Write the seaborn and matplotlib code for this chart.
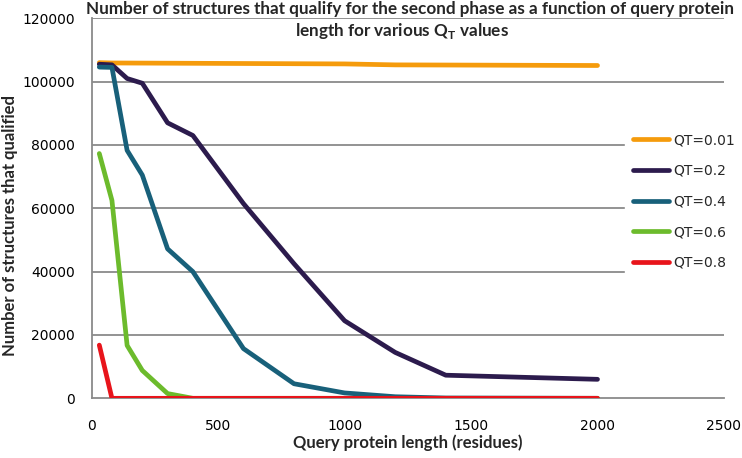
import pandas as pd
import matplotlib
matplotlib.use("Agg")
import matplotlib.pyplot as plt
from matplotlib.lines import Line2D
import seaborn as sns

# values
len_001 = [30, 80, 1000, 1200, 2000]
qt_001 = [106000, 105900, 105600, 105300, 105100]

len_02 = [30, 80, 140, 200, 300, 400, 600, 800, 1000, 1200, 1400, 2000]
qt_02 = [105500, 105300, 101000, 99500, 87000, 83000, 61500, 42500, 24500, 14500, 7300, 6000]

len_04 = [30, 80, 140, 200, 300, 400, 600, 800, 1000, 1200, 1400, 2000]
qt_04 = [104600, 104500, 78300, 70500, 47200, 40000, 15700, 4600, 1700, 500, 100, 0]

len_06 = [30, 80, 140, 200, 300, 400, 2000]
qt_06 = [77300, 62500, 16700, 8800, 1500, 0, 0]

len_08 = [30, 80, 2000]
qt_08 = [16800, 0, 0]

series_names = ["QT=0.01", "QT=0.2", "QT=0.4", "QT=0.6", "QT=0.8"]
series_colors = ["#F59B0C", "#2C1B4D", "#18607A", "#6CBB2C", "#E8141B"]

x_ticks = [0, 500, 1000, 1500, 2000, 2500]
y_ticks = [0, 20000, 40000, 60000, 80000, 100000, 120000]

frames = []
for name, xs, ys in zip(series_names,
                        [len_001, len_02, len_04, len_06, len_08],
                        [qt_001, qt_02, qt_04, qt_06, qt_08]):
    frames.append(pd.DataFrame({"length": xs, "count": ys, "series": name}))
df = pd.concat(frames, ignore_index=True)

sns.set_style("white")
plt.rcParams["font.family"] = ["DejaVu Sans"]
plt.rcParams["mathtext.fontset"] = "custom"
plt.rcParams["mathtext.rm"] = "Lato"
plt.rcParams["mathtext.bf"] = "Lato:bold"

fig = plt.figure(figsize=(7.42, 4.58), dpi=100)
ax = fig.add_axes([0.1236, 0.1303, 0.8521, 0.8297])

grid_col = "#8A8A8A"
for yv in y_ticks[1:]:
    ax.axhline(yv, color=grid_col, lw=1.3, zorder=0)

palette = dict(zip(series_names, series_colors))
sns.lineplot(data=df, x="length", y="count", hue="series", hue_order=series_names,
             palette=palette, estimator=None, linewidth=3.4, legend=False, ax=ax,
             solid_capstyle="round", solid_joinstyle="round", zorder=3)

ax.set_xlim(0, 2500)
ax.set_ylim(0, 120000)
ax.set_xticks(x_ticks)
ax.set_yticks(y_ticks)
ax.set_xticklabels([str(v) for v in x_ticks])
ax.set_yticklabels([str(v) for v in y_ticks])
ax.tick_params(axis="both", direction="out", length=4, width=1.2, color=grid_col,
               labelsize=10, labelcolor="black")
ax.tick_params(axis="x", pad=11)
ax.tick_params(axis="y", pad=8)

for side in ["top", "right"]:
    ax.spines[side].set_visible(False)
for side in ["left", "bottom"]:
    ax.spines[side].set_color(grid_col)
    ax.spines[side].set_linewidth(1.3)

ax.set_xlabel("Query protein length (residues)", fontsize=12, fontweight="bold",
              family="Lato")
ax.set_ylabel("Number of structures that qualified", fontsize=12, fontweight="bold",
              family="Lato")
ax.xaxis.set_label_coords(0.5, -0.118)
ax.xaxis.label.set_va("center")
ax.yaxis.set_label_coords(-0.129, 0.456)
ax.yaxis.label.set_va("center")

fig.text(0.552, 1 - 9 / 458,
         "Number of structures that qualify for the second phase as a function of query protein",
         ha="center", va="center", fontsize=12.3, fontweight="bold", family="Lato")
fig.text(0.542, 1 - 31 / 458, r"length for various Q$_\mathbf{T}$ values",
         ha="center", va="center", fontsize=12.3, fontweight="bold", family="Lato")

handles = [Line2D([0], [0], color=c, lw=3.4, solid_capstyle="round") for c in series_colors]
leg = ax.legend(handles, series_names, loc="center left", bbox_to_anchor=(0.843, 0.518),
                borderaxespad=0, borderpad=0.6, handlelength=2.6, handletextpad=0.3,
                labelspacing=1.2, fontsize=10, frameon=True, facecolor="white",
                edgecolor="white", framealpha=1, fancybox=False)
leg.set_zorder(5)

fig.savefig("out.png", dpi=100)
